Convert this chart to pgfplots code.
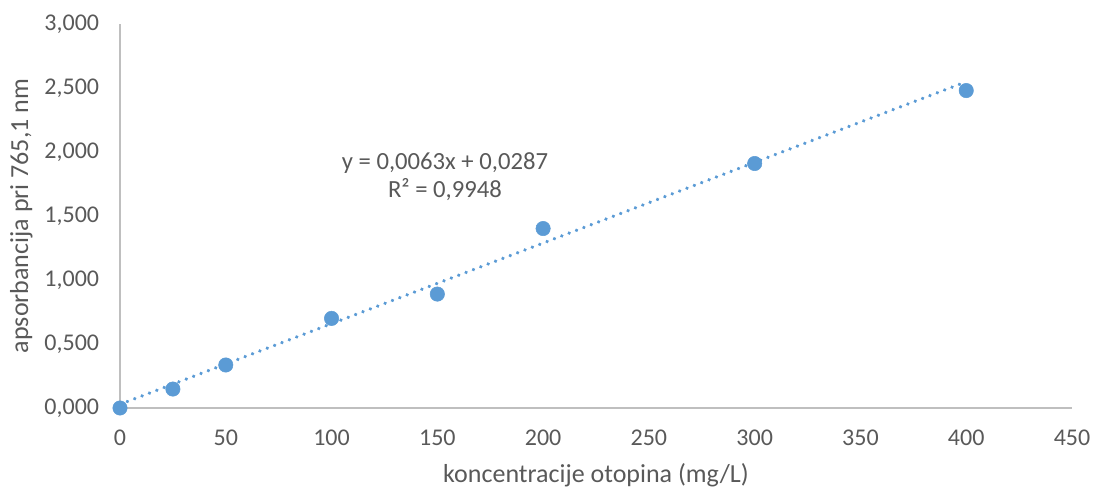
\documentclass[border=0pt]{standalone}
\usepackage{fontspec}
\setmainfont{Carlito}
\usepackage{pgfplots}
\pgfplotsset{compat=1.18}

\definecolor{pointblue}{HTML}{5B9BD5}
\definecolor{textgray}{HTML}{595959}
\definecolor{axisgray}{HTML}{BFBFBF}

\begin{document}
\begin{tikzpicture}
  \path[use as bounding box] (0,0) rectangle (820.5pt,368.25pt);
  \begin{axis}[
    at={(90pt,62.25pt)}, anchor=south west,
    scale only axis, width=714pt, height=288pt,
    xmin=0, xmax=450, ymin=0, ymax=3,
    xtick={0,50,...,450}, ytick={0,0.5,...,3},
    axis x line=bottom, axis y line=left,
    axis line style={-, draw=axisgray, line width=0.8pt},
    major tick length=0pt,
    clip=false,
    tick label style={text=textgray, font=\fontsize{18}{21}\selectfont},
    label style={text=textgray, font=\fontsize{19.5}{23}\selectfont},
    /pgf/number format/assume math mode=true,
    y tick label style={/pgf/number format/fixed, /pgf/number format/fixed zerofill,
      /pgf/number format/precision=3, /pgf/number format/use comma,
      inner sep=0pt, anchor=east, xshift=-15.5pt},
    x tick label style={inner sep=0pt, anchor=north, yshift=-16.5pt},
    xlabel={koncentracije otopina (mg/L)},
    ylabel={apsorbancija pri 765,1 nm},
    xlabel style={at={(axis description cs:0.5,-0.176)}, anchor=center},
    ylabel style={at={(axis description cs:-0.1036,0.5)}, anchor=center},
  ]
  % trendline y = 0,0063x + 0,0287
  \addplot[pointblue, line width=2.8pt, line cap=round,
    dash pattern=on 0.01pt off 5.9pt]
    coordinates {(0,0.0287)(400,2.5487)};
  \addplot[only marks, mark=*, mark size=5.4pt,
    mark options={fill=pointblue, draw=pointblue}]
    coordinates {(0,0.000)(25,0.148)(50,0.336)(100,0.700)(150,0.890)
                 (200,1.402)(300,1.910)(400,2.480)};
  \node[align=center, text=textgray, font=\fontsize{18.5}{21}\selectfont]
    at (axis cs:153.6,1.81) {y = 0,0063x + 0,0287\\R² = 0,9948};
  \end{axis}
\end{tikzpicture}
\end{document}
